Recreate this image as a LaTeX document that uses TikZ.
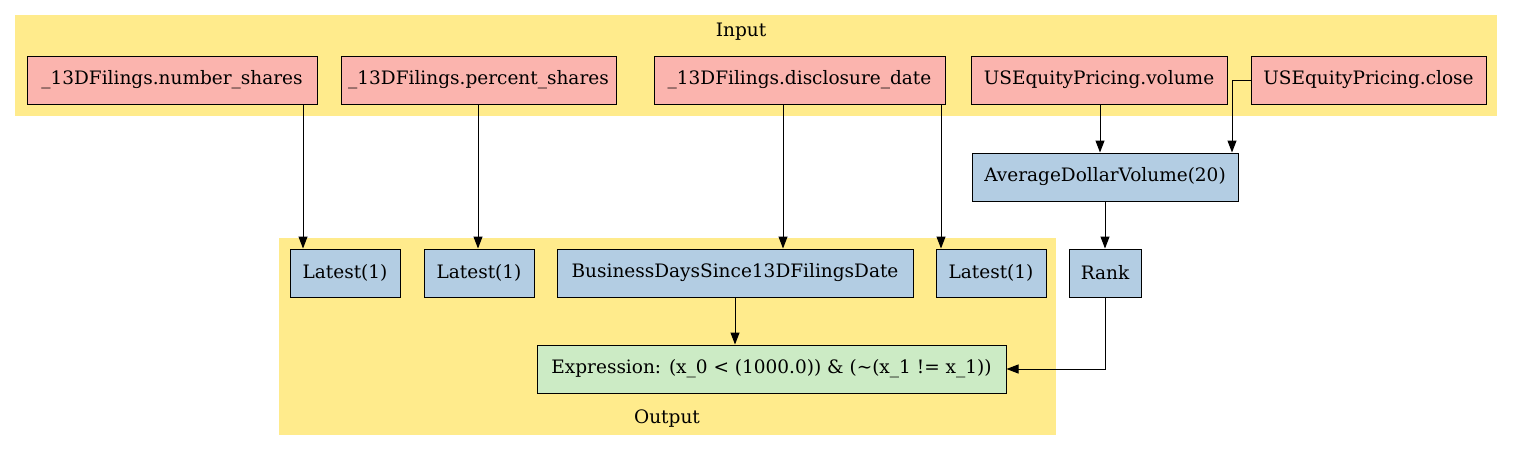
\documentclass[tikz,border=0pt]{standalone}
\usepackage{fontspec}
\setmainfont{DejaVu Serif}
\usetikzlibrary{arrows.meta}
\definecolor{clus}{HTML}{FFEB8C}
\definecolor{inp}{HTML}{FBB4AE}
\definecolor{mid}{HTML}{B3CDE3}
\definecolor{res}{HTML}{CCEBC5}
\tikzset{
  box/.style={draw=black, line width=1pt, inner sep=0pt, font=\fontsize{18.5}{22}\selectfont},
  inbox/.style={box, fill=inp},
  midbox/.style={box, fill=mid},
  resbox/.style={box, fill=res},
  edge/.style={line width=1pt, -{Triangle[length=12pt,width=9pt]}},
  lbl/.style={font=\fontsize{18.5}{22}\selectfont, inner sep=0pt, anchor=base}
}
\newcommand{\bx}[7]{% name style x1 x2 y1 y2 text
  \node[#2, minimum width={#4-#3}, minimum height={#6-#5}] (#1) at ({(#3+#4)/2},{(#5+#6)/2}) {#7};}
\begin{document}
\begin{tikzpicture}[x=1pt,y=-1pt]
\useasboundingbox (0,0) rectangle (1513,451);
% clusters
\fill[clus] (15,15) rectangle (1497,116);
\node[lbl] (inlbl) at (741,36) {Input};
\fill[clus] (279,238) rectangle (1056,435);
\node[lbl] (outlbl) at (667,423) {Output};
% input nodes
\bx{n1}{inbox}{27}{317}{56}{104}{\_13DFilings.number\_shares}
\bx{n2}{inbox}{341}{616}{56}{104}{\_13DFilings.percent\_shares}
\bx{n3}{inbox}{654}{945}{56}{104}{\_13DFilings.disclosure\_date}
\bx{n4}{inbox}{971}{1227}{56}{104}{USEquityPricing.volume}
\bx{n5}{inbox}{1251}{1486}{56}{104}{USEquityPricing.close}
% middle
\bx{adv}{midbox}{972}{1238}{153}{201}{AverageDollarVolume(20)}
\bx{rank}{midbox}{1069}{1141}{249}{297}{Rank}
\bx{l1}{midbox}{290}{400}{249}{297}{Latest(1)}
\bx{l2}{midbox}{424}{534}{249}{297}{Latest(1)}
\bx{bds}{midbox}{557}{913}{249}{297}{BusinessDaysSince13DFilingsDate}
\bx{l3}{midbox}{936}{1046}{249}{297}{Latest(1)}
\bx{expr}{resbox}{537}{1006}{345}{393}{Expression: (x\_0 < (1000.0)) \& ({\char`~}(x\_1 != x\_1))}
% edges
\draw[edge] (n1.south -| 303,0) -- (303,0 |- l1.north);
\draw[edge] (n2.south -| 478,0) -- (478,0 |- l2.north);
\draw[edge] (n3.south -| 783,0) -- (783,0 |- bds.north);
\draw[edge] (n3.south -| 941,0) -- (941,0 |- l3.north);
\draw[edge] (n4.south -| 1100,0) -- (1100,0 |- adv.north);
\draw[edge] (n5.west) -- (1232,0 |- n5.west) -- (1232,0 |- adv.north);
\draw[edge] (adv.south -| rank.north) -- (rank.north);
\draw[edge] (bds.south -| 735,0) -- (735,0 |- expr.north);
\draw[edge] (rank.south) -- (rank.south |- expr.east) -- (expr.east);
\end{tikzpicture}
\end{document}
